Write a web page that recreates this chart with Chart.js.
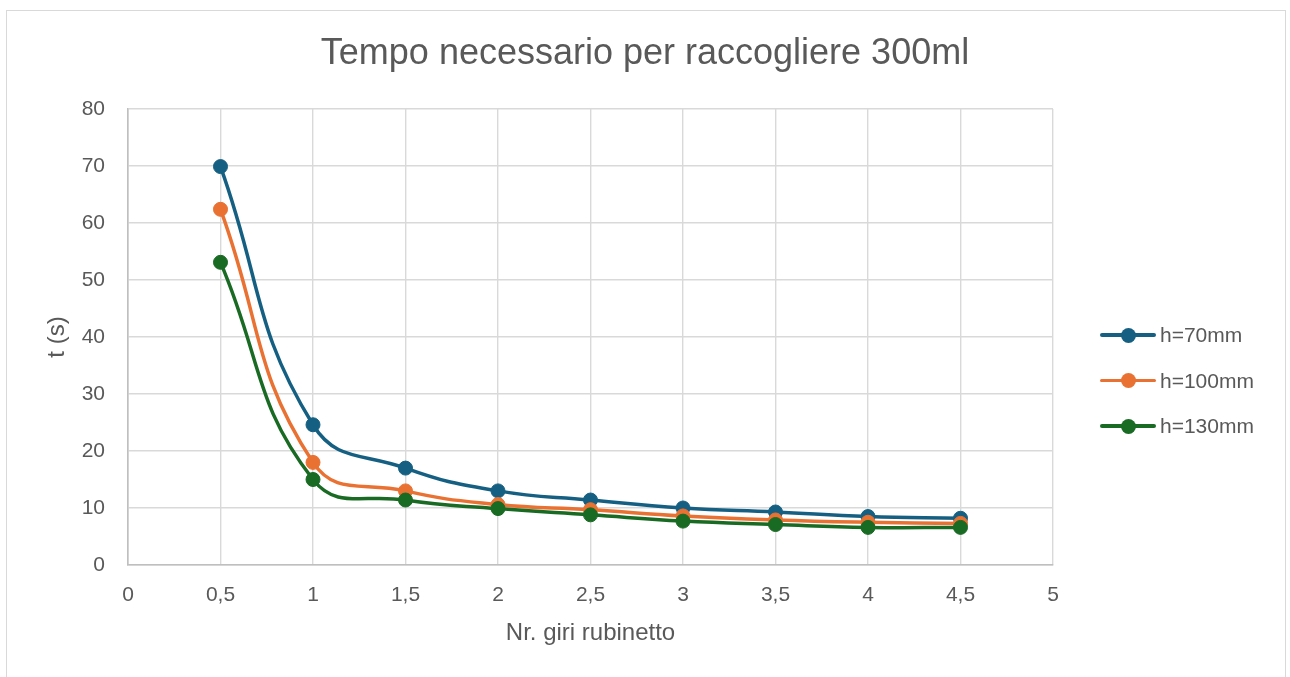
<!DOCTYPE html>
<html lang="it">
<head>
<meta charset="utf-8">
<title>Tempo necessario per raccogliere 300ml</title>
<script src="https://cdn.jsdelivr.net/npm/chart.js@4.4.1/dist/chart.umd.min.js"></script>
<style>
  html, body { margin: 0; padding: 0; background: #ffffff; }
  #wrap { position: relative; width: 1290px; height: 677px; overflow: hidden; }
  #frame { position: absolute; left: 6px; top: 10px; width: 1280px; height: 680px;
           border: 1px solid #d9d9d9; box-sizing: border-box; }
  #chart { position: absolute; left: 0; top: 0; }
  #legend { position: absolute; left: 1100px; top: 319px; font-family: "Liberation Sans", Arial, sans-serif;
            font-size: 21px; color: #595959; }
  .item { display: flex; align-items: center; height: 32px; margin-bottom: 13.5px; }
  .swatch { position: relative; width: 56px; height: 16px; margin-right: 4px; }
  .swatch .ln { position: absolute; left: 0; right: 0; top: 6.3px; height: 3.5px; border-radius: 2px; }
  .swatch .dot { position: absolute; left: 20.5px; top: 0.5px; width: 15px; height: 15px; border-radius: 50%; }
</style>
</head>
<body>
<div id="wrap">
  <div id="frame"></div>
  <canvas id="chart" width="1290" height="677"></canvas>
  <div id="legend"></div>
</div>
<script>
// Numero di giri del rubinetto (asse x)
const turns = [0.5, 1, 1.5, 2, 2.5, 3, 3.5, 4, 4.5];

// Tempo (s) per raccogliere 300 ml, per ciascuna altezza
const h70 = [69.9, 24.6, 17.0, 13.0, 11.4, 10.0, 9.3, 8.5, 8.2];
const h100 = [62.4, 18.0, 13.0, 10.6, 9.7, 8.6, 7.9, 7.5, 7.3];
const h130 = [53.1, 15.0, 11.4, 9.9, 8.8, 7.7, 7.1, 6.6, 6.6];

const seriesNames = ['h=70mm', 'h=100mm', 'h=130mm'];
const seriesColors = ['#156082', '#E97132', '#196B24'];

const xTicks = [0, 0.5, 1, 1.5, 2, 2.5, 3, 3.5, 4, 4.5, 5];
const yTicks = [0, 10, 20, 30, 40, 50, 60, 70, 80];

const FONT = '"Liberation Sans", Arial, sans-serif';
const TEXT = '#595959';

const points = vals => turns.map((t, i) => ({ x: t, y: vals[i] }));

const datasets = [h70, h100, h130].map((vals, i) => ({
  label: seriesNames[i],
  data: points(vals),
  borderColor: seriesColors[i],
  backgroundColor: seriesColors[i],
  pointBackgroundColor: seriesColors[i],
  pointBorderColor: seriesColors[i],
  borderWidth: 3.5,
  pointRadius: 7,
  pointBorderWidth: 1,
  tension: 0.45,
  order: 3 - i
}));

new Chart(document.getElementById('chart'), {
  type: 'line',
  data: { datasets },
  options: {
    responsive: false,
    animation: false,
    layout: { padding: 0 },
    plugins: {
      legend: { display: false },
      tooltip: { enabled: false },
      title: {
        display: true,
        text: 'Tempo necessario per raccogliere 300ml',
        color: TEXT,
        font: { family: FONT, size: 36, weight: 'normal', lineHeight: 1.2 },
        padding: { top: 32, bottom: 33.8 }
      }
    },
    scales: {
      x: {
        type: 'linear',
        min: xTicks[0],
        max: xTicks[xTicks.length - 1],
        afterBuildTicks: s => { s.ticks = xTicks.map(v => ({ value: v })); },
        afterFit: s => { s.height = 112; },
        ticks: {
          color: TEXT,
          padding: 17.4,
          maxRotation: 0,
          autoSkip: false,
          font: { family: FONT, size: 21, lineHeight: 1.2 },
          callback: v => String(v).replace('.', ',')
        },
        grid: { color: '#d9d9d9', lineWidth: 1.4, drawTicks: false },
        border: { color: '#bfbfbf', width: 1.6 },
        title: {
          display: true,
          text: 'Nr. giri rubinetto',
          color: TEXT,
          font: { family: FONT, size: 24, lineHeight: 1.2 },
          padding: { top: 0, bottom: 29.6 }
        }
      },
      y: {
        min: yTicks[0],
        max: yTicks[yTicks.length - 1],
        afterBuildTicks: s => { s.ticks = yTicks.map(v => ({ value: v })); },
        afterFit: s => { s.width = 128; },
        ticks: {
          color: TEXT,
          padding: 23,
          font: { family: FONT, size: 21, lineHeight: 1.2 }
        },
        grid: { color: '#d9d9d9', lineWidth: 1.4, drawTicks: false },
        border: { color: '#bfbfbf', width: 1.6 },
        title: {
          display: true,
          text: 't (s)',
          color: TEXT,
          font: { family: FONT, size: 24, lineHeight: 1.2 },
          padding: { top: 42.6, bottom: 0 }
        }
      },
      // empty right-hand axis: keeps room for the legend column
      legendSpace: {
        type: 'linear',
        position: 'right',
        afterFit: s => { s.width = 237; },
        ticks: { display: false },
        grid: { display: false, drawTicks: false },
        border: { display: false }
      }
    }
  }
});

// Legenda a destra del grafico
const legend = document.getElementById('legend');
seriesNames.forEach((name, i) => {
  const row = document.createElement('div');
  row.className = 'item';
  row.innerHTML = '<div class="swatch"><div class="ln" style="background:' + seriesColors[i] +
    '"></div><div class="dot" style="background:' + seriesColors[i] + '"></div></div><span>' + name + '</span>';
  legend.appendChild(row);
});
</script>
</body>
</html>
